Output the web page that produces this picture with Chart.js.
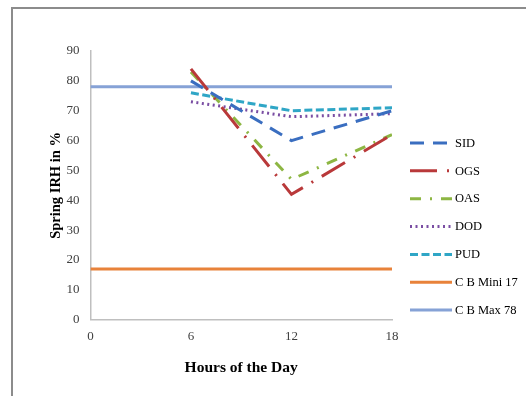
<!DOCTYPE html>
<html>
<head>
<meta charset="utf-8">
<script src="https://cdn.jsdelivr.net/npm/chart.js@4"></script>
<style>
  html, body { margin: 0; padding: 0; background: #fff; overflow: hidden; width: 526px; height: 396px; }
  #frame { position: absolute; left: 11px; top: 7px; width: 530px; height: 400px; border-left: 2px solid #8c8c8c; border-top: 2px solid #8c8c8c; }
  #wrap { position: absolute; left: 0; top: 0; width: 526px; height: 396px; }
</style>
</head>
<body>
<div id="frame"></div>
<div id="wrap"><canvas id="c" width="526" height="396"></canvas></div>
<script>
const hours = [6, 12, 18];
const limitHours = [0, 18];
const xTicks = [0, 6, 12, 18];
const sid = [80, 60, 70];
const ogs = [84, 42, 62];
const oas = [83, 47, 62];
const dod = [73, 68, 69];
const pud = [76, 70, 71];
const cbMini = [17, 17];
const cbMax = [78, 78];
const seriesNames = ['SID', 'OGS', 'OAS', 'DOD', 'PUD', 'C B Mini 17', 'C B Max 78'];

const pts = (xs, ys) => xs.map((x, i) => ({x: x, y: ys[i]}));

const styles = [
  {c: '#3a6ec0', d: [14, 9]},
  {c: '#b9393a', d: [27, 10, 2, 10]},
  {c: '#8db643', d: [11, 9, 2, 9]},
  {c: '#7a4ea3', d: [2, 3.5]},
  {c: '#2fa6c6', d: [8, 3.5]},
  {c: '#e8823a', d: []},
  {c: '#86a2d6', d: []}
];
const dataSets = [pts(hours, sid), pts(hours, ogs), pts(hours, oas), pts(hours, dod), pts(hours, pud), pts(limitHours, cbMini), pts(limitHours, cbMax)];

const datasets = dataSets.map((d, i) => ({
  label: seriesNames[i],
  data: d,
  borderColor: styles[i].c,
  backgroundColor: styles[i].c,
  borderDash: styles[i].d,
  borderWidth: 3,
  pointRadius: 0,
  tension: 0,
  fill: false
}));

const FONT = '"Liberation Serif", "Times New Roman", serif';
Chart.defaults.font.family = FONT;

// Legend drawn from the chart's own datasets, placed on the right like the original
const sideLegend = {
  id: 'sideLegend',
  afterDraw(chart) {
    const ctx = chart.ctx;
    const x0 = 410, lineW = 42, y0 = 143, step = 27.85;
    ctx.save();
    chart.data.datasets.forEach((ds, i) => {
      const y = y0 + i * step;
      ctx.strokeStyle = ds.borderColor;
      ctx.lineWidth = ds.borderWidth;
      ctx.setLineDash(ds.borderDash || []);
      ctx.beginPath();
      ctx.moveTo(x0, y);
      ctx.lineTo(x0 + lineW, y);
      ctx.stroke();
      ctx.setLineDash([]);
      ctx.fillStyle = '#000';
      ctx.font = '12.5px ' + FONT;
      ctx.textAlign = 'left';
      ctx.textBaseline = 'middle';
      ctx.fillText(ds.label, x0 + lineW + 3, y + 0.5);
    });
    ctx.restore();
  }
};

new Chart(document.getElementById('c'), {
  type: 'line',
  data: { datasets: datasets },
  plugins: [sideLegend],
  options: {
    responsive: false,
    animation: false,
    layout: { padding: { left: 46, top: 51, right: 134, bottom: 19 } },
    plugins: {
      tooltip: { enabled: false },
      legend: { display: false }
    },
    scales: {
      x: {
        type: 'linear',
        min: 0, max: 18,
        afterBuildTicks: (s) => { s.ticks = xTicks.map(v => ({value: v})); },
        grid: { display: false, drawTicks: false },
        border: { display: true, color: '#bfbfbf', width: 1.5 },
        ticks: { color: '#404040', font: { size: 13 }, padding: 9 },
        title: { display: true, text: 'Hours of the Day', color: '#000', font: { size: 15.5, weight: 'bold' }, padding: { top: 5, bottom: 0 } }
      },
      y: {
        min: 0, max: 90,
        ticks: { stepSize: 10, color: '#404040', font: { size: 13 }, padding: 11 },
        grid: { display: false, drawTicks: false },
        border: { display: true, color: '#bfbfbf', width: 1.5 },
        title: { display: true, text: 'Spring IRH in %', color: '#000', font: { size: 14.5, weight: 'bold' }, padding: { top: 2, bottom: -10 } }
      }
    }
  }
});
</script>
</body>
</html>
